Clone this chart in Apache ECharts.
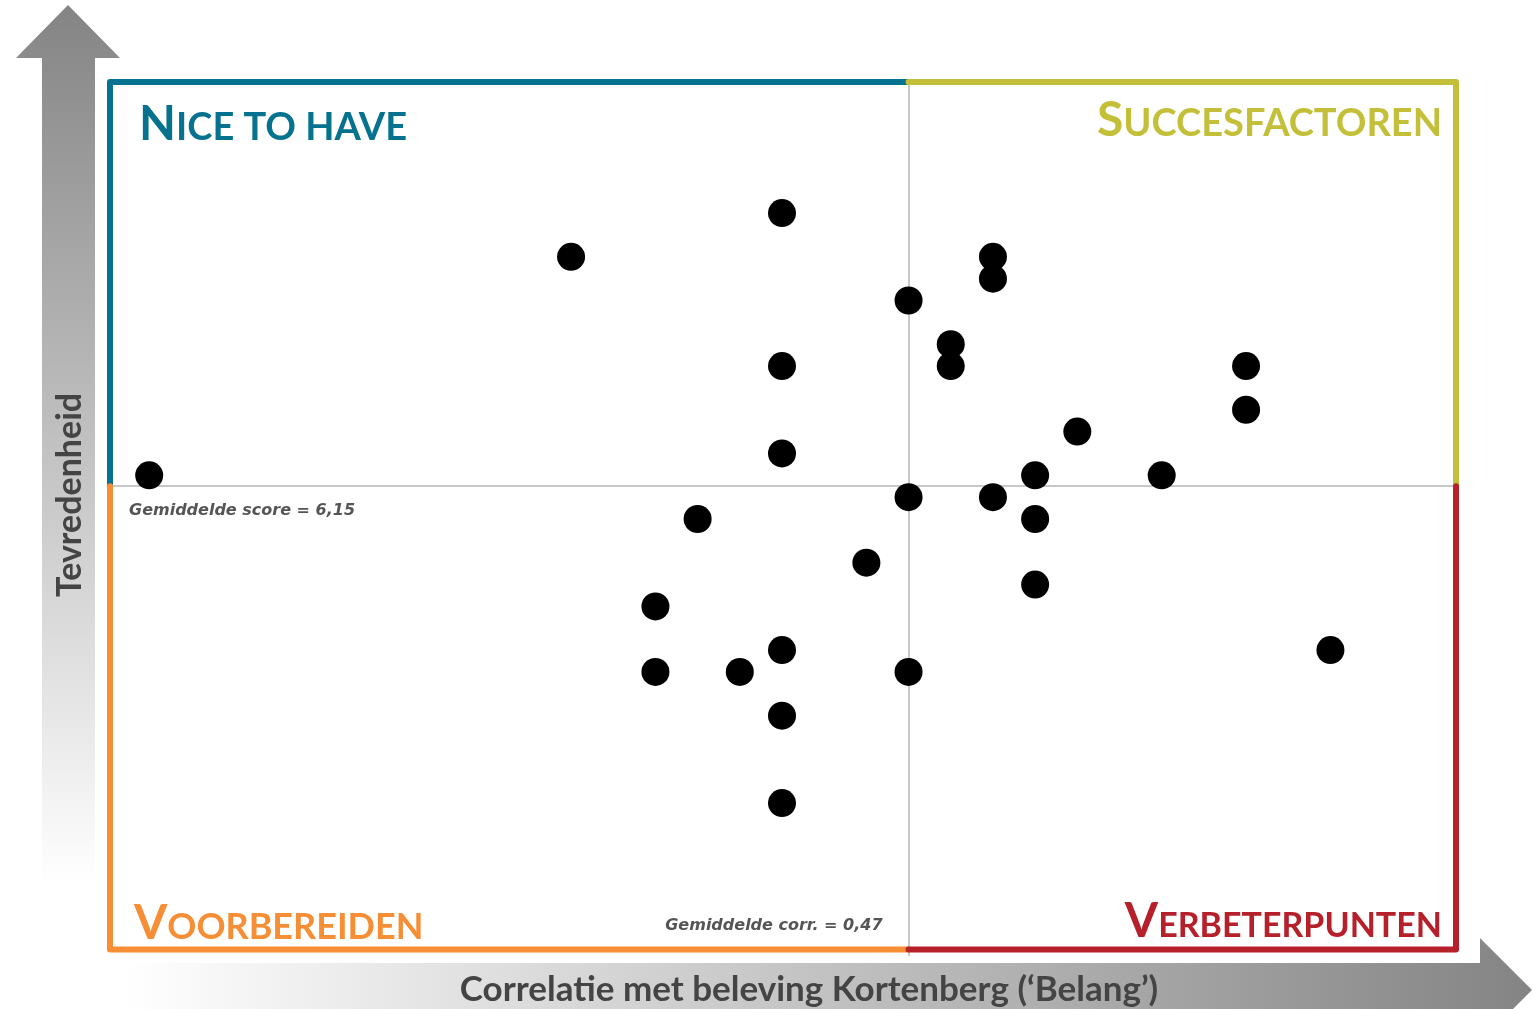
<!DOCTYPE html>
<html>
<head>
<meta charset="utf-8">
<script src="https://cdn.jsdelivr.net/npm/echarts@6/dist/echarts.min.js"></script>
<style>
html, body { margin: 0; padding: 0; background: #fff; }
#chart { width: 1534px; height: 1009px; }
</style>
</head>
<body>
<div id="chart"></div>
<script>
// correlatie (belang) en tevredenheid per item
var corr  = [0.29, 0.39, 0.44, 0.44, 0.44, 0.42, 0.41, 0.41, 0.43, 0.44, 0.44, 0.44, 0.46, 0.47, 0.47,
             0.47, 0.48, 0.48, 0.49, 0.49, 0.49, 0.50, 0.50, 0.50, 0.51, 0.53, 0.55, 0.55, 0.57];
var score = [6.2, 7.2, 7.4, 6.7, 6.3, 6.0, 5.6, 5.3, 5.3, 5.4, 5.1, 4.7, 5.8, 7.0, 6.1,
             5.3, 6.8, 6.7, 7.2, 7.1, 6.1, 6.2, 6.0, 5.7, 6.4, 6.2, 6.7, 6.5, 5.4];
var meanCorr = 0.47;
var meanScore = 6.15;
var xRange = [0.28, 0.60];
var yRange = [4, 8];
var frameBottom = 4.03; // onderrand kader

var points = corr.map(function (c, i) { return [c, score[i]]; });

var myChart = echarts.init(document.getElementById('chart'));
var font = 'Lato';

var option = {
    animation: false,
    grid: { left: 107, right: 77, top: 82, bottom: 53 },
    xAxis: {
        type: 'value', min: xRange[0], max: xRange[1],
        show: false, splitLine: { show: false }
    },
    yAxis: {
        type: 'value', min: yRange[0], max: yRange[1],
        show: false, splitLine: { show: false }
    },
    series: [{
        type: 'scatter',
        data: points,
        symbolSize: 28,
        itemStyle: { color: '#000', opacity: 1 },
        z: 10,
        markLine: {
            silent: true,
            symbol: 'none',
            label: { show: false },
            lineStyle: { color: '#c8c8c8', width: 2, type: 'solid' },
            data: [{ xAxis: meanCorr }, { yAxis: meanScore }],
            z: 1
        }
    }]
};
myChart.setOption(option);

// kader en teksten op basis van de assen
var tl = myChart.convertToPixel({ gridIndex: 0 }, [xRange[0], yRange[1]]);
var md = myChart.convertToPixel({ gridIndex: 0 }, [meanCorr, meanScore]);
var br = myChart.convertToPixel({ gridIndex: 0 }, [xRange[1], frameBottom]);
var L = tl[0] + 3, T = tl[1], R = br[0] - 1, B = br[1], MX = md[0], MY = md[1];

function frame(pts, color) {
    return {
        type: 'polyline', z: 5,
        shape: { points: pts },
        style: { stroke: color, lineWidth: 6, lineJoin: 'round', lineCap: 'round', fill: null }
    };
}
function title(first, rest, color, x, y, align, small) {
    return {
        type: 'text', z: 6, x: x, y: y,
        style: {
            text: '{a|' + first + '}{b|' + rest + '}',
            align: align, verticalAlign: 'bottom',
            rich: {
                a: { fontFamily: font, fontWeight: 'bold', fontSize: 48, fill: color, color: color, lineHeight: 48, verticalAlign: 'bottom' },
                b: { fontFamily: font, fontWeight: 'bold', fontSize: small, fill: color, color: color, lineHeight: 48, verticalAlign: 'bottom', padding: [0, 0, 2, 0] }
            }
        }
    };
}

var grayUp = new echarts.graphic.LinearGradient(0, 0, 0, 1, [
    { offset: 0, color: '#848484' }, { offset: 1, color: '#ffffff' }
]);
var grayRight = new echarts.graphic.LinearGradient(0, 0, 1, 0, [
    { offset: 0, color: '#ffffff' }, { offset: 1, color: '#848484' }
]);
var noteFont = 'DejaVu Sans';

myChart.setOption({
    graphic: [
        // pijlen
        {
            type: 'polygon', z: 0,
            shape: { points: [[42, 885], [42, 58], [16, 58], [68, 5], [120, 58], [95, 58], [95, 885]] },
            style: { fill: grayUp }
        },
        {
            type: 'polygon', z: 0,
            shape: { points: [[125, 963], [1480, 963], [1480, 938], [1532, 990], [1480, 1042], [1480, 1017], [125, 1017]] },
            style: { fill: grayRight }
        },
        // kwadranten
        frame([[L, MY + 4], [L, T], [MX, T]], '#07728f'),
        frame([[MX, T], [R, T], [R, MY]], '#c4bf38'),
        frame([[L, MY], [L, B], [MX, B]], '#f58e35'),
        frame([[MX, B], [R, B], [R, MY]], '#b6202b'),
        title('N', 'ICE TO HAVE', '#07728f', L + 29, T + 67, 'left', 38),
        title('S', 'UCCESFACTOREN', '#c4bf38', R - 14, T + 63, 'right', 38),
        title('V', 'OORBEREIDEN', '#f58e35', L + 24, B - 2, 'left', 36),
        title('V', 'ERBETERPUNTEN', '#b6202b', R - 14, B - 4, 'right', 34),
        // gemiddelden
        {
            type: 'text', z: 6, x: L + 19, y: MY + 25,
            style: { text: 'Gemiddelde score = 6,15', fontFamily: noteFont, fontStyle: 'italic', fontWeight: 'bold',
                     fontSize: 16, fill: '#555', verticalAlign: 'middle', align: 'left' }
        },
        {
            type: 'text', z: 6, x: MX - 26, y: B - 24,
            style: { text: 'Gemiddelde corr. = 0,47', fontFamily: noteFont, fontStyle: 'italic', fontWeight: 'bold',
                     fontSize: 16, fill: '#555', verticalAlign: 'middle', align: 'right' }
        },
        // astitels
        {
            type: 'text', z: 6, x: 809, y: 990,
            style: { text: 'Correlatie met beleving Kortenberg (\u2018Belang\u2019)', fontFamily: font, fontWeight: 'bold',
                     fontSize: 35, fill: '#444', align: 'center', verticalAlign: 'middle' }
        },
        {
            type: 'text', z: 6, x: 70, y: 495, rotation: Math.PI / 2,
            style: { text: 'Tevredenheid', fontFamily: font, fontWeight: 'bold',
                     fontSize: 34, fill: '#444', align: 'center', verticalAlign: 'middle' }
        }
    ]
});
</script>
</body>
</html>
